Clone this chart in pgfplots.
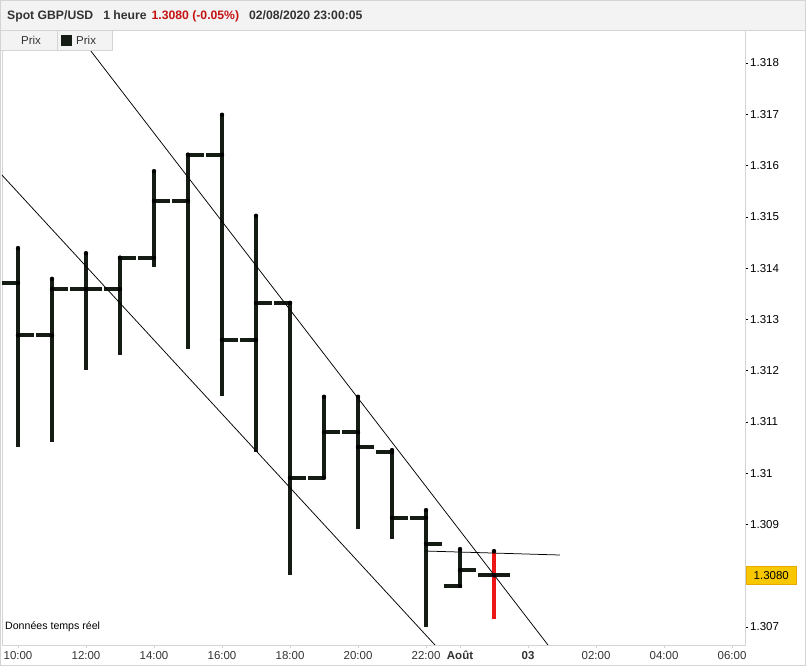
\documentclass[border=0pt]{standalone}
\usepackage{pgfplots}
\pgfplotsset{compat=1.18}
\usepackage{pgfplotstable}
\usepackage{fontspec}
\setmainfont{Liberation Sans}
\definecolor{barc}{RGB}{20,28,20}
\definecolor{headgray}{RGB}{243,243,243}
\definecolor{bordgray}{RGB}{212,212,212}
\definecolor{txtgray}{RGB}{51,51,51}
\definecolor{pricered}{RGB}{196,18,18}
\definecolor{lastred}{RGB}{236,22,22}
\definecolor{goldbox}{RGB}{247,200,0}
\definecolor{goldedge}{RGB}{230,170,0}

\pgfplotstableread{
x o h l c
0 1.31371 1.31439 1.31051 1.31269
1 1.31269 1.31379 1.31061 1.31359
2 1.31359 1.31429 1.31201 1.31359
3 1.31359 1.31420 1.31230 1.31420
4 1.31420 1.31589 1.31402 1.31531
5 1.31531 1.31621 1.31242 1.31621
6 1.31621 1.31699 1.31150 1.31260
7 1.31260 1.31502 1.31041 1.31332
8 1.31332 1.31332 1.30801 1.30991
9 1.30991 1.31149 1.30991 1.31080
10 1.31080 1.31149 1.30891 1.31051
11 1.31041 1.31045 1.30872 1.30913
12 1.30913 1.30928 1.30700 1.30862
13 1.30780 1.30852 1.30776 1.30811
}\ohlc
\pgfplotstableread{
x o h l c
14 1.30801 1.30848 1.30716 1.30801
}\lastbar

\begin{document}
\begin{tikzpicture}[x=1bp,y=1bp]
\useasboundingbox (0,0) rectangle (806,666);
\fill[white] (0,0) rectangle (806,666);
\fill[headgray] (0,636) rectangle (806,666);
\begin{axis}[
  at={(2bp,21bp)}, anchor=south west,
  scale only axis, width=743bp, height=615bp,
  xmin=-0.4706, xmax=21.382, ymin=1.306649, ymax=1.318644,
  axis line style={bordgray, line width=0.8bp},
  xtick={0,2,4,6,8,10,12,13,15,17,19,21},
  xticklabels={10:00,12:00,14:00,16:00,18:00,20:00,22:00,\textbf{Août},\textbf{03},02:00,04:00,06:00},
  ytick={1.307,1.309,1.310,1.311,1.312,1.313,1.314,1.315,1.316,1.317,1.318},
  yticklabels={1.307,1.309,1.31,1.311,1.312,1.313,1.314,1.315,1.316,1.317,1.318},
  xtick pos=bottom, ytick pos=right,
  xticklabel pos=bottom, yticklabel pos=right,
  tick align=outside,
  major tick length=3bp,
  xtick style={bordgray, line width=0.6bp},
  ytick style={black, line width=0.6bp},
  xticklabel style={font=\fontsize{11.5bp}{13bp}\selectfont, text=txtgray, inner sep=0pt, yshift=-3bp},
  yticklabel style={font=\fontsize{11.5bp}{13bp}\selectfont, text=black, inner sep=0pt, xshift=2bp},
]
% vertical high-low lines
\addplot[only marks, mark=none,
  error bars/.cd, y dir=minus, y explicit, error mark=none,
  error bar style={line width=3.4bp, barc}]
  table[x=x, y=h, y error minus expr=\thisrow{h}-\thisrow{l}] {\ohlc};
\addplot[only marks, mark=none,
  error bars/.cd, y dir=minus, y explicit, error mark=none,
  error bar style={line width=3.1bp, lastred}]
  table[x=x, y=h, y error minus expr=\thisrow{h}-\thisrow{l}] {\lastbar};
% open ticks
\addplot[only marks, mark=none,
  error bars/.cd, x dir=minus, x explicit, error mark=none,
  error bar style={line width=3.6bp, barc}]
  table[x=x, y=o, x error minus expr=0.46] {\ohlc};
\addplot[only marks, mark=none,
  error bars/.cd, x dir=both, x explicit, error mark=none,
  error bar style={line width=3.6bp, barc}]
  table[x=x, y=o, x error minus expr=0.46, x error plus expr=0.46] {\lastbar};
% close ticks
\addplot[only marks, mark=none,
  error bars/.cd, x dir=plus, x explicit, error mark=none,
  error bar style={line width=3.6bp, barc}]
  table[x=x, y=c, x error plus expr=0.46] {\ohlc};
% trend lines
\addplot[black, line width=0.75bp] coordinates {(1.667,1.318644) (15.588,1.306648)};
\addplot[black, line width=0.75bp] coordinates {(-0.529,1.315855) (12.265,1.306648)};
\addplot[black, line width=0.75bp] coordinates {(11.97,1.308482) (15.94,1.308404)};
\end{axis}
% header
\draw[bordgray, line width=0.8bp] (0,636) -- (806,636);
\node[anchor=base west, inner sep=0pt, text=txtgray, font=\fontsize{12.2bp}{14bp}\selectfont\bfseries] at (7,646) {Spot GBP/USD\hspace{10bp}1 heure\hspace{5bp}\textcolor{pricered}{1.3080 (-0.05\%)}\hspace{10bp}02/08/2020 23:00:05};
% legend tabs
\filldraw[fill=headgray, draw=bordgray, line width=0.8bp] (0,616) rectangle (57,636);
\filldraw[fill=headgray, draw=bordgray, line width=0.8bp] (57,616) rectangle (112,636);
\node[inner sep=0pt, text=txtgray, font=\fontsize{11.5bp}{13bp}\selectfont] at (31,626) {Prix};
\fill[barc] (61,620) rectangle (72,631);
\node[anchor=west, inner sep=0pt, text=txtgray, font=\fontsize{11.5bp}{13bp}\selectfont] at (76,626) {Prix};
% last price box
\node[anchor=west, fill=goldbox, draw=goldedge, line width=0.6bp, minimum width=50bp, minimum height=18bp, inner sep=0pt, font=\fontsize{11.5bp}{13bp}\selectfont] at (746,90.3) {1.3080};
% footnote
\node[anchor=base west, inner sep=0pt, text=black, font=\fontsize{10.6bp}{12bp}\selectfont] at (5,36) {Données temps réel};
% outer border
\draw[bordgray, line width=0.8bp] (0.4,0.4) rectangle (805.6,665.6);
\end{tikzpicture}
\end{document}
